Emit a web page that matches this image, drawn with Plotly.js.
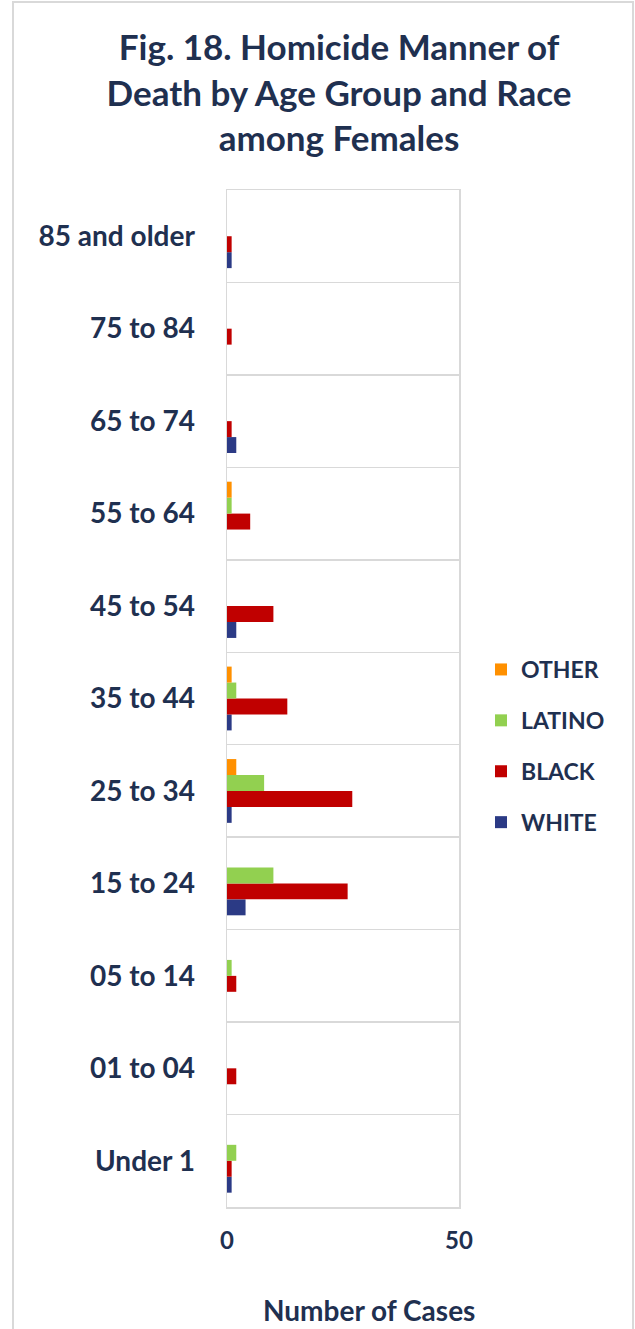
<!DOCTYPE html>
<html>
<head>
<meta charset="utf-8">
<script src="https://cdn.plot.ly/plotly-3.0.1.min.js"></script>
<style>
  html, body { margin: 0; padding: 0; background: #fff; }
  #chart { width: 635px; height: 1329px; }
</style>
</head>
<body>
<div id="chart"></div>
<script>
// Categories (bottom to top)
const ageGroups = ["Under 1", "01 to 04", "05 to 14", "15 to 24", "25 to 34", "35 to 44", "45 to 54", "55 to 64", "65 to 74", "75 to 84", "85 and older"];
// Series values
const white  = [1, 0, 0, 4, 1, 1, 2, 0, 2, 0, 1];
const black  = [1, 2, 2, 26, 27, 13, 10, 5, 1, 1, 1];
const latino = [2, 0, 1, 10, 8, 2, 0, 1, 0, 0, 0];
const other  = [0, 0, 0, 0, 2, 1, 0, 1, 0, 0, 0];
const xTicks = [0, 50];

const navy = "#1f3050";
const fontFam = "Lato, 'Open Sans', sans-serif";

function bar(name, vals, color, rank) {
  return {
    type: "bar", orientation: "h", name: name,
    x: vals, y: ageGroups, legendgroup: name, legendrank: rank,
    marker: { color: color, line: { width: 0 } },
    hoverinfo: "x+y+name"
  };
}

const data = [
  bar("WHITE", white, "#2b3a85", 4),
  bar("BLACK", black, "#c00000", 3),
  bar("LATINO", latino, "#92d050", 2),
  bar("OTHER", other, "#ff9000", 1)
];

const L = 227, R = 635 - 459, T = 190, B = 1329 - 1207;
const pw = 635 - L - R, ph = 1329 - T - B;
const px2x = p => (p - L) / pw;
const py2y = p => (1329 - B - p) / ph;

const layout = {
  width: 635, height: 1329,
  margin: { l: L, r: R, t: T, b: B, pad: 0 },
  paper_bgcolor: "#fff", plot_bgcolor: "#fff",
  font: { family: fontFam, color: navy, weight: "bold" },
  barmode: "group",
  bargap: 0.31, bargroupgap: 0,
  title: {
    text: "Fig. 18. Homicide Manner of<br>Death by Age Group and Race<br>among Females",
    font: { family: fontFam, size: 35, color: navy, weight: "bold" },
    x: 339 / 635, xref: "container", xanchor: "center",
    y: 1 - 60 / 1329, yref: "container", yanchor: "top"
  },
  xaxis: {
    range: [0, 50], tickvals: xTicks, ticktext: xTicks.map(String),
    showgrid: true, gridcolor: "#d9d9d9", gridwidth: 1.5,
    zeroline: false, showline: true, mirror: true, linecolor: "#d9d9d9", linewidth: 1.5,
    ticks: "", ticklabelstandoff: 12,
    tickfont: { family: fontFam, size: 24, color: navy, weight: "bold" },
    fixedrange: true
  },
  yaxis: {
    type: "category", categoryorder: "array", categoryarray: ageGroups,
    tickson: "boundaries", showgrid: true, gridcolor: "#d9d9d9", gridwidth: 1.5,
    showline: true, mirror: true, linecolor: "#d9d9d9", linewidth: 1.5,
    ticks: "", ticklabelstandoff: 25,
    tickfont: { family: fontFam, size: 28, color: navy, weight: "bold" },
    fixedrange: true
  },
  showlegend: true,
  legend: {
    x: px2x(481), xanchor: "left", y: py2y(746), yanchor: "middle",
    traceorder: "grouped", tracegroupgap: 18,
    font: { family: fontFam, size: 23, color: navy, weight: "bold" },
    bgcolor: "rgba(0,0,0,0)", itemwidth: 30
  },
  annotations: [{
    text: "Number of Cases", xref: "paper", yref: "paper",
    x: px2x(369), y: py2y(1310), xanchor: "center", yanchor: "middle",
    showarrow: false, font: { family: fontFam, size: 28, color: navy, weight: "bold" }
  }],
  shapes: [{
    type: "rect", xref: "paper", yref: "paper",
    x0: px2x(13), x1: px2x(633), y0: py2y(1340), y1: py2y(2),
    line: { color: "#d9d9d9", width: 2 }, fillcolor: "rgba(0,0,0,0)", layer: "below"
  }]
};

Plotly.newPlot("chart", data, layout, { displayModeBar: false, staticPlot: true });
</script>
</body>
</html>
